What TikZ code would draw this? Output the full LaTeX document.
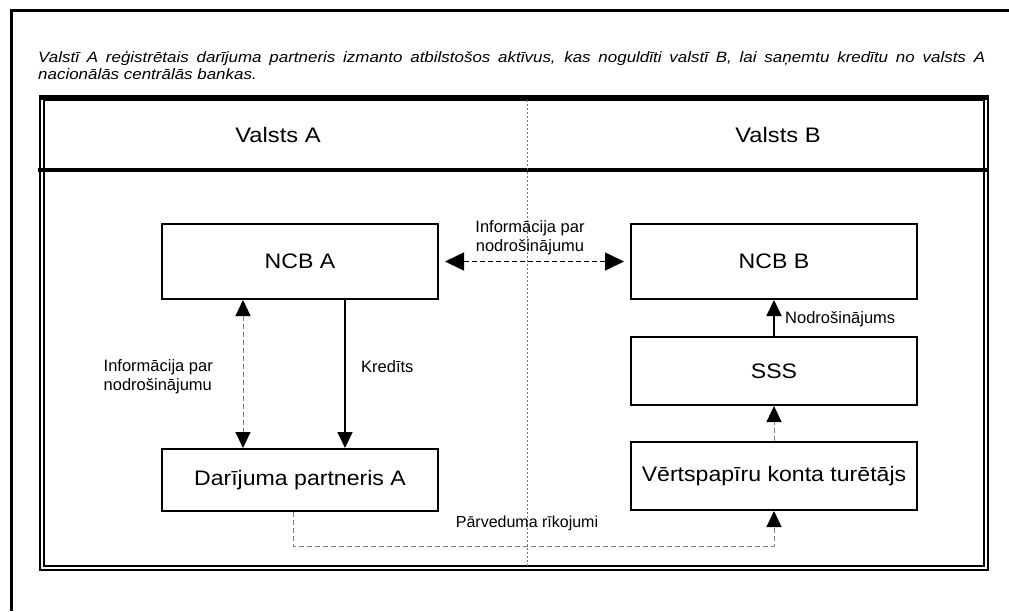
\documentclass[tikz,border=0pt]{standalone}
\usepackage{fontspec}
\setmainfont{Liberation Sans}
\newfontfamily\widefont[FakeStretch=1.13]{Liberation Sans}
\newfontfamily\boxfont[FakeStretch=1.1]{Liberation Sans}
\usetikzlibrary{arrows.meta,calc}
\newcommand{\fsz}[2]{\fontsize{#1}{#2}\selectfont}
\tikzset{
  box/.style={draw=black, line width=2pt, rectangle, inner sep=0pt, align=center, font=\boxfont\fsz{21}{25}},
  lbl/.style={inner sep=0pt, align=left, font=\fsz{16.5}{19}},
  tipv/.style={-{Triangle[length=16pt,width=15pt,color=black]}},
  tipvv/.style={{Triangle[length=16pt,width=15pt,color=black]}-{Triangle[length=16pt,width=15pt,color=black]}},
  tiph/.style={{Triangle[length=19pt,width=18pt,color=black]}-{Triangle[length=19pt,width=18pt,color=black]}},
  solidarrow/.style={line width=1.8pt, draw=black},
  grayarrow/.style={line width=1pt, draw=black!50, dash pattern=on 5pt off 3pt},
  blackdash/.style={line width=1.6pt, draw=black, dash pattern=on 5pt off 3pt},
}
\begin{document}
\begin{tikzpicture}[x=1pt,y=-1pt]
\useasboundingbox (0,0) rectangle (1009,611);
% outer frame
\draw[line width=3pt] (11,611) -- (11,10) -- (1009,10);
% description
\node[anchor=north west, text width=947pt, align=justify, inner sep=0pt, font=\widefont\fsz{15}{17.5}\itshape] (desc) at (38,50.5)
 {Valstī A reģistrētais darījuma partneris izmanto atbilstošos aktīvus, kas noguldīti valstī B, lai saņemtu kredītu no valsts A\linebreak nacionālās centrālās bankas.};
% inner frame (double line)
\draw[line width=1.4pt] (40,96) rectangle (988,570);
\draw[line width=1.2pt] (44,100) rectangle (984,566);
\draw[line width=4pt] (40,98) -- (988,98);
\draw[line width=4pt] (38,170) -- (988,170);
% centre dotted line
\draw[black!55, line width=0.8pt, dash pattern=on 1.5pt off 2.5pt] (527,100) -- (527,566);
% headers
\node[inner sep=0pt, font=\widefont\fsz{21}{25}] (hA) at (278,135) {Valsts A};
\node[inner sep=0pt, font=\widefont\fsz{21}{25}] (hB) at (778,135) {Valsts B};
% boxes
\node[box, minimum width=276pt, minimum height=75pt] (ncba) at (300,261.5) {NCB A};
\node[box, minimum width=286pt, minimum height=75pt] (ncbb) at (774,261.5) {NCB B};
\node[box, minimum width=286pt, minimum height=68pt] (sss) at (774,371) {SSS};
\node[box, minimum width=286pt, minimum height=68pt] (vert) at (774,476) {Vērtspapīru konta turētājs};
\node[box, minimum width=276pt, minimum height=62pt] (darij) at (300,480) {Darījuma partneris A};
% helper coordinates
\coordinate (ix) at (243,0);
\coordinate (kx) at (345,0);
\coordinate (px) at (293,0);
\coordinate (py) at (0,546);
% NCB A <-> NCB B
\draw[blackdash, tiph, shorten <=6pt, shorten >=6pt] (ncba.east) -- (ncbb.west);
\node[lbl, align=center] (infotop) at (530,237.5) {Informācija par\\nodrošinājumu};
% left info arrow
\draw[grayarrow, tipvv] (ncba.south -| ix) -- (darij.north -| ix);
\node[lbl, anchor=east] (infoleft) at (213,376.5) {Informācija par\\nodrošinājumu};
% Kredits
\draw[solidarrow, tipv] (ncba.south -| kx) -- (darij.north -| kx);
\node[lbl, anchor=west] (kred) at (361,367) {Kredīts};
% SSS -> NCB B
\draw[solidarrow, tipv] (sss.north) -- (ncbb.south);
\node[lbl, anchor=west] (nodr) at (785,319) {Nodrošinājums};
% Vert -> SSS
\draw[grayarrow, tipv] (vert.north) -- (sss.south);
% Parveduma
\draw[grayarrow, tipv] (darij.south -| px) -- (px |- py) -| (vert.south);
\node[lbl, font=\fsz{16}{19}] (parv) at (527,523) {Pārveduma rīkojumi};
\end{tikzpicture}
\end{document}
